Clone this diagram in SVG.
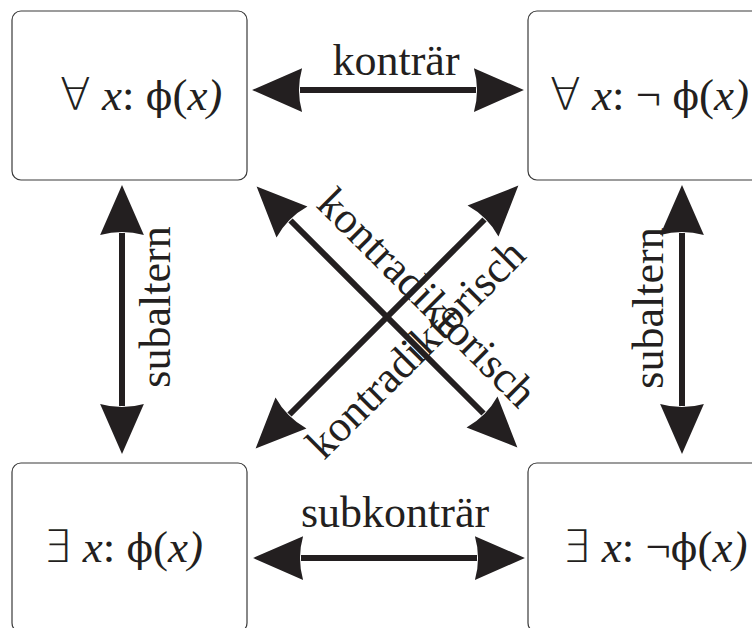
<svg xmlns="http://www.w3.org/2000/svg" width="752" height="628" viewBox="0 0 752 628">
<style>
.box{fill:#fff;stroke:#3a3a3a;stroke-width:1.2}
.lbl{font-family:"Liberation Serif","DejaVu Serif",serif;font-size:45px;fill:#231f20}
.sym{font-family:"DejaVu Sans","Liberation Sans",sans-serif;font-weight:200}
.phi{font-family:"DejaVu Serif","Liberation Serif",serif;font-size:39px}
.it{font-style:italic}
.conn line{stroke:#231f20;stroke-width:6;marker-start:url(#ah);marker-end:url(#ah)}
.ct{font-family:"Liberation Serif","DejaVu Serif",serif;font-size:44px;fill:#231f20}
</style>
<defs>
<marker id="ah" markerUnits="userSpaceOnUse" markerWidth="60" markerHeight="50" viewBox="-2 -24 54 48" refX="2" refY="0" orient="auto-start-reverse" overflow="visible">
<path d="M48,0 L0,-21 Q6,0 0,21 Z" fill="#231f20"/>
</marker>
</defs>
<rect width="752" height="628" fill="#fff"/>
<g id="n-all-phi">
<rect class="box" x="12" y="11" width="235" height="169" rx="9"/>
<text class="lbl" x="60" y="110"><tspan class="sym">∀</tspan> <tspan class="it">x</tspan>: <tspan class="phi">ϕ</tspan>(<tspan class="it">x)</tspan></text>
</g>
<g id="n-all-notphi">
<rect class="box" x="528" y="11" width="235" height="169" rx="9"/>
<text class="lbl" x="550" y="110"><tspan class="sym">∀</tspan> <tspan class="it">x</tspan>: ¬ <tspan class="phi">ϕ</tspan>(<tspan class="it">x)</tspan></text>
</g>
<g id="n-ex-phi">
<rect class="box" x="12" y="463" width="235" height="169" rx="9"/>
<text class="lbl" x="43" y="562"><tspan class="sym">∃</tspan> <tspan class="it">x</tspan>: <tspan class="phi">ϕ</tspan>(<tspan class="it">x)</tspan></text>
</g>
<g id="n-ex-notphi">
<rect class="box" x="528" y="463" width="235" height="169" rx="9"/>
<text class="lbl" x="562" y="562"><tspan class="sym">∃</tspan> <tspan class="it">x</tspan>: ¬<tspan class="phi">ϕ</tspan>(<tspan class="it">x)</tspan></text>
</g>
<g id="connectors" class="conn">
<line x1="300" y1="90" x2="476" y2="90"/>
<line x1="301" y1="558" x2="477" y2="558"/>
<line x1="122" y1="233" x2="122" y2="406"/>
<line x1="682" y1="233" x2="682" y2="406"/>
<line x1="290.5" y1="220.5" x2="483.5" y2="413.5"/>
<line x1="289.5" y1="414.5" x2="484.5" y2="219.5"/>
<text class="ct" x="396" y="75" text-anchor="middle">konträr</text>
<text class="ct" x="395" y="527" text-anchor="middle">subkonträr</text>
<text class="ct" transform="translate(170,307) rotate(-90)" text-anchor="middle">subaltern</text>
<text class="ct" transform="translate(663,308) rotate(-90)" text-anchor="middle">subaltern</text>
<text class="ct" transform="translate(315,206) rotate(45)">kontradiktorisch</text>
<text class="ct" transform="translate(324,461) rotate(-45)">kontradiktorisch</text>
</g>
</svg>
